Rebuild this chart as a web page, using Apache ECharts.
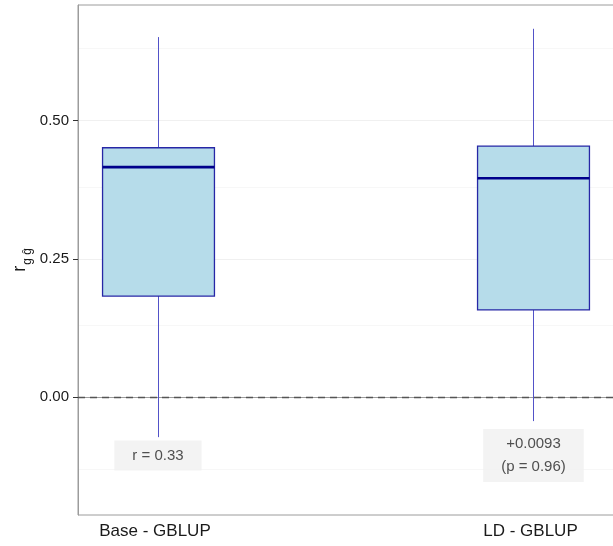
<!DOCTYPE html>
<html>
<head>
<meta charset="utf-8">
<script src="https://cdn.jsdelivr.net/npm/echarts@6/dist/echarts.min.js"></script>
<style>
  html, body { margin: 0; padding: 0; background: #fff; }
  #chart { width: 613px; height: 546px; }
</style>
</head>
<body>
<div id="chart"></div>
<script>
// Box summaries for each model (accuracy r between g and g-hat)
const categories = ['Base - GBLUP', 'LD - GBLUP'];
const whiskerLow = [-0.072, -0.043];
const lowerQuartile = [0.183, 0.158];
const medianValue = [0.416, 0.396];
const upperQuartile = [0.451, 0.454];
const whiskerHigh = [0.651, 0.666];

// Text shown under each box
const annotations = ['r = 0.33', '+0.0093\n(p = 0.96)'];
const annotationLevel = [-0.105, -0.105];

// Y tick labels and grid levels
const yTicks = [0, 0.25, 0.5];
const yMinorGrid = [-0.125, 0.125, 0.375, 0.625];

const boxData = categories.map((c, i) => [
  i + 1, whiskerLow[i], lowerQuartile[i], medianValue[i], upperQuartile[i], whiskerHigh[i]
]);
const labelData = categories.map((c, i) => [i + 1, annotationLevel[i], annotations[i]]);

const BOX_WIDTH = 0.298;
const boxFill = '#b6dcea';
const boxStroke = '#2727a6';
const whiskerColor = '#5252c8';
const medianColor = '#00008b';

function renderBox(params, api) {
  const x = api.value(0);
  const lo = api.coord([x, api.value(1)]);
  const q1 = api.coord([x, api.value(2)]);
  const md = api.coord([x, api.value(3)]);
  const q3 = api.coord([x, api.value(4)]);
  const hi = api.coord([x, api.value(5)]);
  const half = api.size([BOX_WIDTH, 0])[0] / 2;
  const cx = Math.round(lo[0]) + 0.5;
  return {
    type: 'group',
    children: [
      { type: 'line', shape: { x1: cx, y1: hi[1], x2: cx, y2: q3[1] },
        style: { stroke: whiskerColor, lineWidth: 1 } },
      { type: 'line', shape: { x1: cx, y1: q1[1], x2: cx, y2: lo[1] },
        style: { stroke: whiskerColor, lineWidth: 1 } },
      { type: 'rect', shape: { x: cx - half, y: q3[1], width: half * 2, height: q1[1] - q3[1] },
        style: { fill: boxFill, stroke: boxStroke, lineWidth: 1.3 } },
      { type: 'line', shape: { x1: cx - half, y1: md[1], x2: cx + half, y2: md[1] },
        style: { stroke: medianColor, lineWidth: 2.6 } }
    ]
  };
}

const gridLines = [];
yTicks.filter(v => v !== 0).forEach(v => gridLines.push({ yAxis: v, lineStyle: { color: '#f0f0f0', width: 1, type: 'solid' } }));
yMinorGrid.forEach(v => gridLines.push({ yAxis: v, lineStyle: { color: '#f7f7f7', width: 1, type: 'solid' } }));

const chart = echarts.init(document.getElementById('chart'), null, { renderer: 'canvas' });
chart.setOption({
  animation: false,
  backgroundColor: '#ffffff',
  textStyle: { fontFamily: 'Liberation Sans, Arial, sans-serif' },
  grid: {
    left: 78, top: 5, width: 545, height: 510,
    containLabel: false,
    outerBoundsMode: 'none',
    show: true, borderColor: '#9c9c9c', borderWidth: 1, backgroundColor: 'transparent'
  },
  xAxis: {
    type: 'value',
    min: 0.787, max: 2.2384,
    splitLine: { show: false },
    axisLine: { show: true, lineStyle: { color: '#9c9c9c', width: 1 } },
    axisTick: { show: false },
    axisLabel: {
      customValues: [1, 2],
      formatter: v => categories[Math.round(v) - 1] || '',
      color: '#1a1a1a', fontSize: 17, margin: 8,
      padding: [0, 6, 0, 0],
      fontFamily: 'Liberation Sans, Arial, sans-serif'
    }
  },
  yAxis: {
    type: 'value',
    min: -0.2127, max: 0.709,
    splitLine: { show: false },
    axisLine: { show: true, lineStyle: { color: '#9c9c9c', width: 1 } },
    axisTick: { show: true, customValues: yTicks, length: 5, lineStyle: { color: '#333333', width: 1 } },
    axisLabel: {
      customValues: yTicks,
      formatter: v => v.toFixed(2),
      color: '#1a1a1a', fontSize: 15, margin: 9,
      fontFamily: 'Liberation Sans, Arial, sans-serif'
    },
    name: '{r|r}{s|g ĝ}',
    nameLocation: 'middle',
    nameGap: 49,
    nameMoveOverlap: false,
    nameRotate: 90,
    nameTextStyle: {
      rich: {
        r: { fontSize: 18, color: '#1a1a1a', fontFamily: 'Liberation Sans, Arial, sans-serif', verticalAlign: 'bottom', lineHeight: 20 },
        s: { fontSize: 12, color: '#1a1a1a', fontFamily: 'Liberation Sans, Arial, sans-serif', verticalAlign: 'bottom', lineHeight: 14, padding: [0, 0, -5, 1] }
      }
    }
  },
  series: [
    {
      type: 'line',
      data: [],
      silent: true,
      z: 0,
      markLine: {
        z: 0,
        silent: true, symbol: 'none', label: { show: false },
        data: gridLines
      }
    },
    {
      type: 'line',
      data: [],
      silent: true,
      z: 1,
      markLine: {
        z: 1,
        silent: true, symbol: 'none', label: { show: false },
        lineStyle: { color: '#555555', width: 1.3, type: [7, 5] },
        data: [{ yAxis: 0 }]
      }
    },
    {
      type: 'custom',
      renderItem: renderBox,
      data: boxData,
      z: 3
    },
    {
      type: 'scatter',
      data: labelData,
      symbolSize: 1,
      itemStyle: { color: 'rgba(0,0,0,0)' },
      z: 4,
      labelLayout: { hideOverlap: false },
      label: {
        show: true,
        position: 'inside',
        formatter: p => p.data[2],
        color: '#262626',
        fontSize: 15,
        lineHeight: 23,
        fontFamily: 'Liberation Sans, Arial, sans-serif',
        backgroundColor: '#f0f0f0',
        padding: [4, 18, 3, 18]
      }
    }
  ]
});
</script>
</body>
</html>
